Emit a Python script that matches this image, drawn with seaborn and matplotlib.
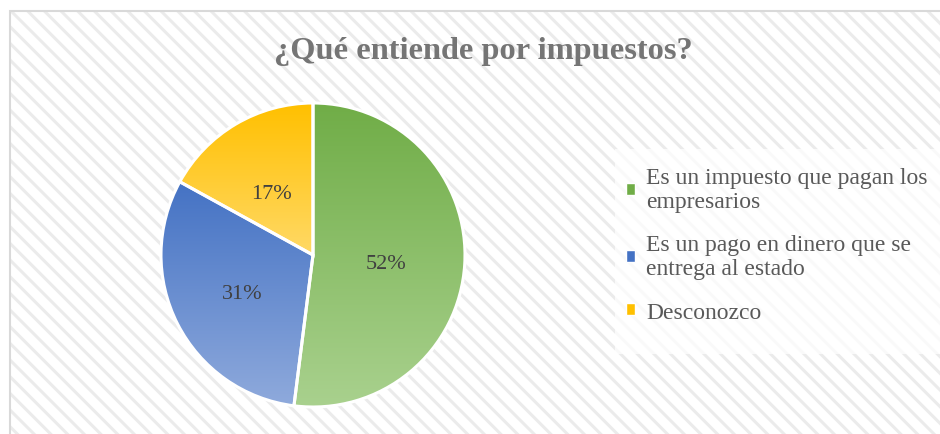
import numpy as np
import matplotlib
matplotlib.use("Agg")
import matplotlib.pyplot as plt
import matplotlib.colors as mcolors
from matplotlib.patches import Rectangle, Patch
import seaborn as sns

# data
categories = ["Es un impuesto que pagan los\nempresarios",
              "Es un pago en dinero que se\nentrega al estado",
              "Desconozco"]
shares = [52, 31, 17]
title = "¿Qué entiende por impuestos?"

# gradient colours per slice (top -> bottom)
top_cols = ["#70AD47", "#4472C4", "#FFC000"]
bot_cols = ["#A9D18E", "#8FAADC", "#FFD966"]

sns.set_theme(style="white")
plt.rcParams["font.family"] = ["Liberation Serif", "DejaVu Serif"]
plt.rcParams["hatch.linewidth"] = 2.2

W, H = 940, 435
fig = plt.figure(figsize=(W / 100, H / 100), dpi=100)
fig.patch.set_facecolor("white")

# hatched chart area + border
x0, ytop = 10 / W, 12 / H
fig.patches.append(Rectangle((x0, -0.02), 1.05, 1 - ytop + 0.02, transform=fig.transFigure,
                             facecolor="white", edgecolor="#ebebeb", hatch="\\\\",
                             linewidth=0, zorder=-3))
fig.patches.append(Rectangle((x0, -0.02), 1.05, 1 - ytop + 0.02, transform=fig.transFigure,
                             fill=False, edgecolor="#d9d9d9", linewidth=1.5, zorder=-2))
# legend backdrop
fig.patches.append(Rectangle((615 / W, 1 - 355 / H), 330 / W, 205 / H, transform=fig.transFigure,
                             facecolor="white", alpha=0.75, linewidth=0, zorder=-1))

# pie axes: centre (313, 256), radius 152 px
cx, cy, r = 313, 256, 152
half = r * 1.05
ax = fig.add_axes([(cx - half) / W, (H - cy - half) / H, 2 * half / W, 2 * half / H])
ax.set_zorder(2)
ax.set_facecolor("none")

wedges, texts, autotexts = ax.pie(
    shares, startangle=90, counterclock=False, radius=1,
    autopct=lambda p: f"{p:.0f}%", pctdistance=0.5,
    wedgeprops=dict(edgecolor="white", linewidth=2.2),
    textprops=dict(fontsize=16, color="#404040"))

for w, c1, c2 in zip(wedges, top_cols, bot_cols):
    ext = w.get_path().get_extents()
    cmap = mcolors.LinearSegmentedColormap.from_list("g", [c1, c2])
    grad = np.linspace(0, 1, 256).reshape(-1, 1)
    im = ax.imshow(grad, cmap=cmap, aspect="auto", origin="upper",
                   extent=[ext.x0, ext.x1, ext.y0, ext.y1], zorder=1)
    im.set_clip_path(w)
    w.set_facecolor("none")
    w.set_zorder(2)

for t in autotexts:
    tx, ty = t.get_position()
    t.set_position((tx - 0.02, ty - 0.027))
    t.set_zorder(3)

ax.set_xlim(-1.05, 1.05)
ax.set_ylim(-1.05, 1.05)
ax.set_aspect("equal")
ax.axis("off")

fig.text(483 / W, 1 - 52 / H, title, ha="center", va="center",
         fontsize=23.3, fontweight="bold", color="#757575")

handles = [Patch(facecolor=c) for c in top_cols]
leg = fig.legend(handles, categories, loc="upper left",
                 bbox_to_anchor=(626 / W, 1 - 168 / H), frameon=False,
                 fontsize=17, labelcolor="#595959", handlelength=0.4,
                 handleheight=0.4, handletextpad=0.45, labelspacing=0.95,
                 borderaxespad=0, borderpad=0)
for t in leg.get_texts():
    t.set_linespacing(1.18)

fig.savefig("out.png", dpi=100)
